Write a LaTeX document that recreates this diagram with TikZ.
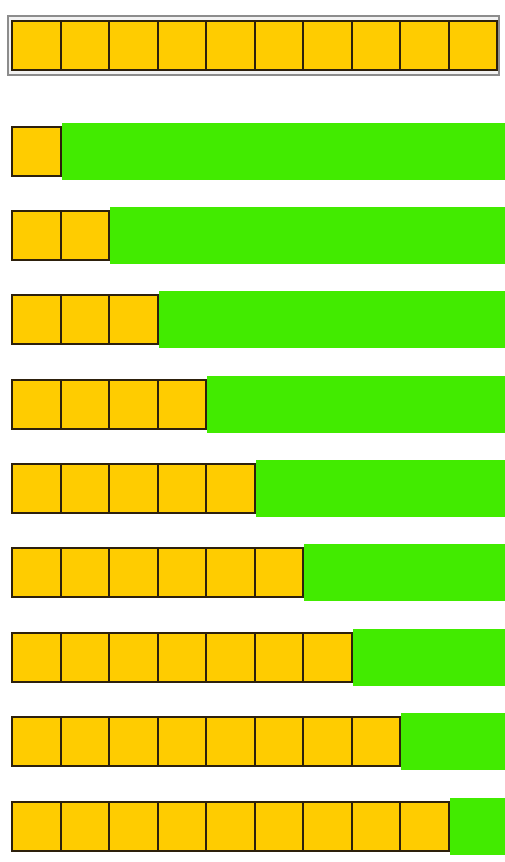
\documentclass[tikz,border=0pt]{standalone}
\usetikzlibrary{positioning}
\definecolor{gold}{RGB}{255,204,0}
\definecolor{lime}{RGB}{66,235,0}
\definecolor{edge}{RGB}{45,32,12}
\definecolor{frame}{RGB}{140,140,140}

\begin{document}
\begin{tikzpicture}[x=1pt, y=-1pt,
  cell/.style={draw=edge, line width=2pt, fill=gold, minimum width=48.5pt,
               minimum height=49pt, inner sep=0pt, outer sep=0pt},
  bar/.style={fill=lime, minimum height=57pt, inner sep=0pt, outer sep=0pt}]
\useasboundingbox (0,0) rectangle (504,862);
% full strip of ten
\draw[frame, line width=2.5pt, fill=gray!10] (8,16) rectangle (499,75);
\foreach \c in {1,...,10}
  \node[cell] (top-\c) at ({12+48.5*(\c-0.5)}, 45.5) {};
% growing rows
\foreach \r in {1,...,9} {
  \pgfmathsetmacro{\yc}{151+84.375*(\r-1)}
  \foreach \c in {1,...,\r}
    \node[cell] (cell-\r-\c) at ({12+48.5*(\c-0.5)}, \yc) {};
  \pgfmathsetmacro{\bw}{504-12-48.5*\r+2}
  \node[bar, minimum width=\bw pt, right=1pt of cell-\r-\r] (bar-\r) {};
}
\end{tikzpicture}
\end{document}
